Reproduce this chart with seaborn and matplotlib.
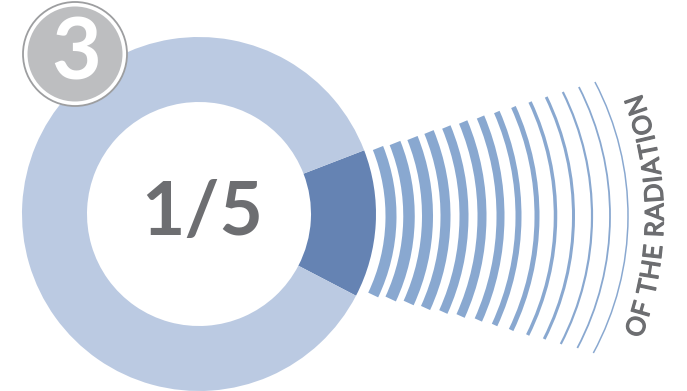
import numpy as np
import pandas as pd
import seaborn as sns
import matplotlib
matplotlib.use("Agg")
import matplotlib.pyplot as plt
import matplotlib.patheffects as pe
from matplotlib.patches import Wedge, Circle

sns.set_theme(style="white")
plt.rcParams['font.family'] = ['Lato', 'DejaVu Sans']

# ---------------- data ----------------
share_labels = ["radiation share", "rest"]
share_values = [0.135, 0.865]          # angular share of the dark slice
share_text = "1/5"
badge_text = "3"
arc_caption = "OF THE RADIATION"

# radiating arcs (image px): middle x of each stroke, radius, stroke width,
# y of the upper end and y of the lower end
arc_mid_x = [391, 409, 427.5, 445.5, 464, 482, 500.5, 518.5, 537, 555.5, 573.5, 592, 610, 628]
arc_radius = [184, 197, 210, 222, 233, 244, 255, 260, 264, 268, 273, 278, 283, 288]
arc_width = [11, 11.5, 11, 10, 9, 9, 8, 6, 5, 3.5, 3, 2.2, 1.8, 1.5]
arc_top_y = [148, 143, 138, 132, 127, 122, 117, 112, 107, 102, 97, 92, 87, 82]
arc_bot_y = [295, 299, 303, 308, 312, 316, 320, 325, 330, 335, 339, 344, 348, 353]

arcs = pd.DataFrame(dict(mid=arc_mid_x, r=arc_radius, w=arc_width,
                         top=arc_top_y, bot=arc_bot_y))

# ---------------- style ----------------
W, H = 687, 391
light = "#BBCAE2"
dark = "#6583B3"
arc_col = "#89A8D0"
grey_txt = "#6D6E71"

fig = plt.figure(figsize=(W / 100, H / 100), dpi=100)
ax = fig.add_axes([0, 0, 1, 1])

def Y(y_img):
    return H - y_img

# donut
cx, cy_img = 199, 214
ax.pie(share_values, colors=[dark, light], startangle=-27.5, counterclock=True,
       radius=177, center=(cx, Y(cy_img)),
       wedgeprops=dict(width=65, linewidth=0, antialiased=True))

# radiating arcs
acy = 216
for _, a in arcs.iterrows():
    acx = a.mid - a.r
    th_top = np.degrees(np.arcsin((acy - a.top) / a.r))
    th_bot = -np.degrees(np.arcsin((a.bot - acy) / a.r))
    ax.add_patch(Wedge((acx, Y(acy)), a.r + a.w / 2, th_bot, th_top, width=a.w,
                       facecolor=arc_col, linewidth=0, zorder=2))

# centre text
ax.text(202, Y(214), share_text, ha="center", va="center", fontsize=54,
        fontweight="bold", color=grey_txt, zorder=5)

# badge
bx, by = 75, 54
ax.add_patch(Circle((bx, Y(by)), 52, facecolor="white", edgecolor="#9D9EA0",
                    linewidth=1.3, zorder=6))
ax.add_patch(Circle((bx, Y(by)), 47.5, facecolor="#BDBEC0", linewidth=0, zorder=7))
ax.text(bx + 1, Y(by) - 1, badge_text, ha="center", va="center", fontsize=62,
        fontweight="bold", color="white", zorder=8)

# curved caption, one letter at a time along an arc
tcx, tcy, tR = 316, 216, 340
fs = 18.5
effects = [pe.withStroke(linewidth=0.9, foreground=grey_txt)]
renderer = fig.canvas.get_renderer()
def tw(s):
    t = ax.text(0, 0, s, fontsize=fs)
    w = t.get_window_extent(renderer=renderer).width
    t.remove()
    return w
total = tw(arc_caption)
n = len(arc_caption)
target = 246.0
track = (target - total) / (n - 1)
for k, ch in enumerate(arc_caption):
    if ch == " ":
        continue
    c = tw(arc_caption[:k + 1]) - tw(ch) / 2 + k * track
    s = c - target / 2
    phi = s / tR
    x = tcx + tR * np.cos(phi)
    y = Y(tcy) + tR * np.sin(phi)
    ax.text(x, y, ch, fontsize=fs, color=grey_txt,
            rotation=np.degrees(phi) + 90, path_effects=effects,
            rotation_mode="anchor", ha="center", va="center", zorder=5)

ax.set_xlim(0, W)
ax.set_ylim(0, H)
ax.set_aspect("equal")
ax.axis("off")
sns.despine(ax=ax, left=True, bottom=True)
fig.savefig("out.png", dpi=100, facecolor="white")
